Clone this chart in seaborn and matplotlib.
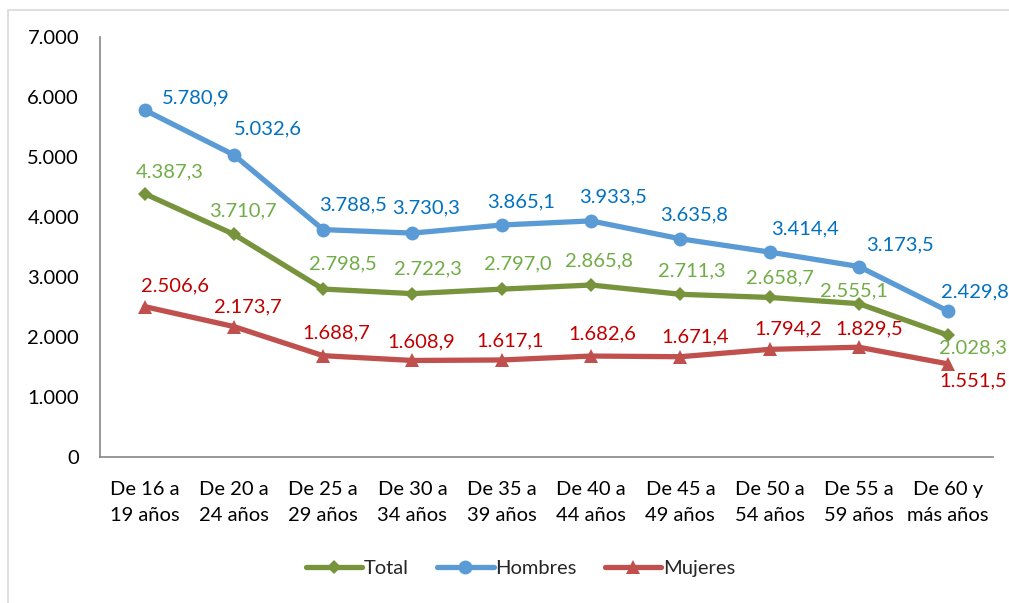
import pandas as pd
import seaborn as sns
import matplotlib.pyplot as plt
from matplotlib.patches import Rectangle
from matplotlib.ticker import FuncFormatter

## Data
grupos = ["De 16 a\n19 años", "De 20 a\n24 años", "De 25 a\n29 años", "De 30 a\n34 años",
          "De 35 a\n39 años", "De 40 a\n44 años", "De 45 a\n49 años", "De 50 a\n54 años",
          "De 55 a\n59 años", "De 60 y\nmás años"]
total = [4387.3, 3710.7, 2798.5, 2722.3, 2797.0, 2865.8, 2711.3, 2658.7, 2555.1, 2028.3]
hombres = [5780.9, 5032.6, 3788.5, 3730.3, 3865.1, 3933.5, 3635.8, 3414.4, 3173.5, 2429.8]
mujeres = [2506.6, 2173.7, 1688.7, 1608.9, 1617.1, 1682.6, 1671.4, 1794.2, 1829.5, 1551.5]

## label offsets in pixels (dx, dy) as placed in the original
off_total = [(25, 22), (9, 23), (20, 25), (16, 25), (16, 25), (8, 24), (11, 23), (10, 20), (-5, 13), (25, -13)]
off_hombres = [(51, 12), (34, 26), (30, 25), (14, 25), (19, 23), (22, 24), (14, 24), (35, 23), (41, 22), (27, 19)]
off_mujeres = [(30, 21), (14, 20), (13, 23), (9, 19), (8, 19), (11, 22), (15, 20), (19, 20), (10, 18), (25, -17)]

series = {"Total": total, "Hombres": hombres, "Mujeres": mujeres}
df = pd.DataFrame([(g, name, v) for name, vals in series.items() for g, v in zip(grupos, vals)],
                  columns=["grupo", "serie", "valor"])

line_colors = {"Total": "#77933C", "Hombres": "#5B9BD5", "Mujeres": "#C0504D"}
text_colors = {"Total": "#70AD47", "Hombres": "#0070C0", "Mujeres": "#C00000"}
markers = {"Total": "D", "Hombres": "o", "Mujeres": "^"}
msizes = {"Total": 7, "Hombres": 10, "Mujeres": 10}
FS = 14.5

sns.set_style("white")
plt.rcParams['font.family'] = ['Lato', 'DejaVu Sans']

fig = plt.figure(figsize=(10.09, 6.03), dpi=100)
ax = fig.add_axes([0.099, 0.242, 0.885, 0.697])

for name in series:
    sub = df[df.serie == name]
    sns.lineplot(data=sub, x="grupo", y="valor", ax=ax, color=line_colors[name],
                 marker=markers[name], markersize=msizes[name], markeredgewidth=0,
                 linewidth=3.8, label=name, sort=False)

def fmt(v):
    s = f"{v:,.1f}"
    return s.replace(",", "X").replace(".", ",").replace("X", ".")

for name, offs in zip(series, [off_total, off_hombres, off_mujeres]):
    for i, (v, (dx, dy)) in enumerate(zip(series[name], offs)):
        ax.annotate(fmt(v), (i, v), xytext=(dx, dy), textcoords="offset pixels",
                    ha="center", va="center", fontsize=FS, color=text_colors[name],
                    annotation_clip=False)

ax.set_xlim(-0.5, 9.5)
ax.set_ylim(0, 7000)
ax.set_yticks(range(0, 7001, 1000))
ax.yaxis.set_major_formatter(FuncFormatter(lambda v, p: f"{int(v):,}".replace(",", ".")))
ax.set_xlabel("")
ax.set_ylabel("")
ax.tick_params(axis="both", length=0, labelsize=FS, colors="#000000")
ax.tick_params(axis="y", pad=15)
ax.tick_params(axis="x", pad=17)
for lbl in ax.get_xticklabels():
    lbl.set_linespacing(1.65)

for s in ["top", "right"]:
    ax.spines[s].set_visible(False)
for s in ["left", "bottom"]:
    ax.spines[s].set_color("#868686")
    ax.spines[s].set_linewidth(1.2)

handles, labels = ax.get_legend_handles_labels()
ax.legend(handles, labels, loc="center", bbox_to_anchor=(0.516, 0.058),
          bbox_transform=fig.transFigure, ncol=3, frameon=False, fontsize=FS,
          handlelength=2.8, handletextpad=0.1, columnspacing=1.4)

fig.patches.append(Rectangle((8 / 1009, -0.05), 1.1, 1 - 10 / 603 + 0.05, transform=fig.transFigure,
                             fill=False, edgecolor="#D9D9D9", linewidth=1.2))

fig.savefig("out.png", dpi=100)
